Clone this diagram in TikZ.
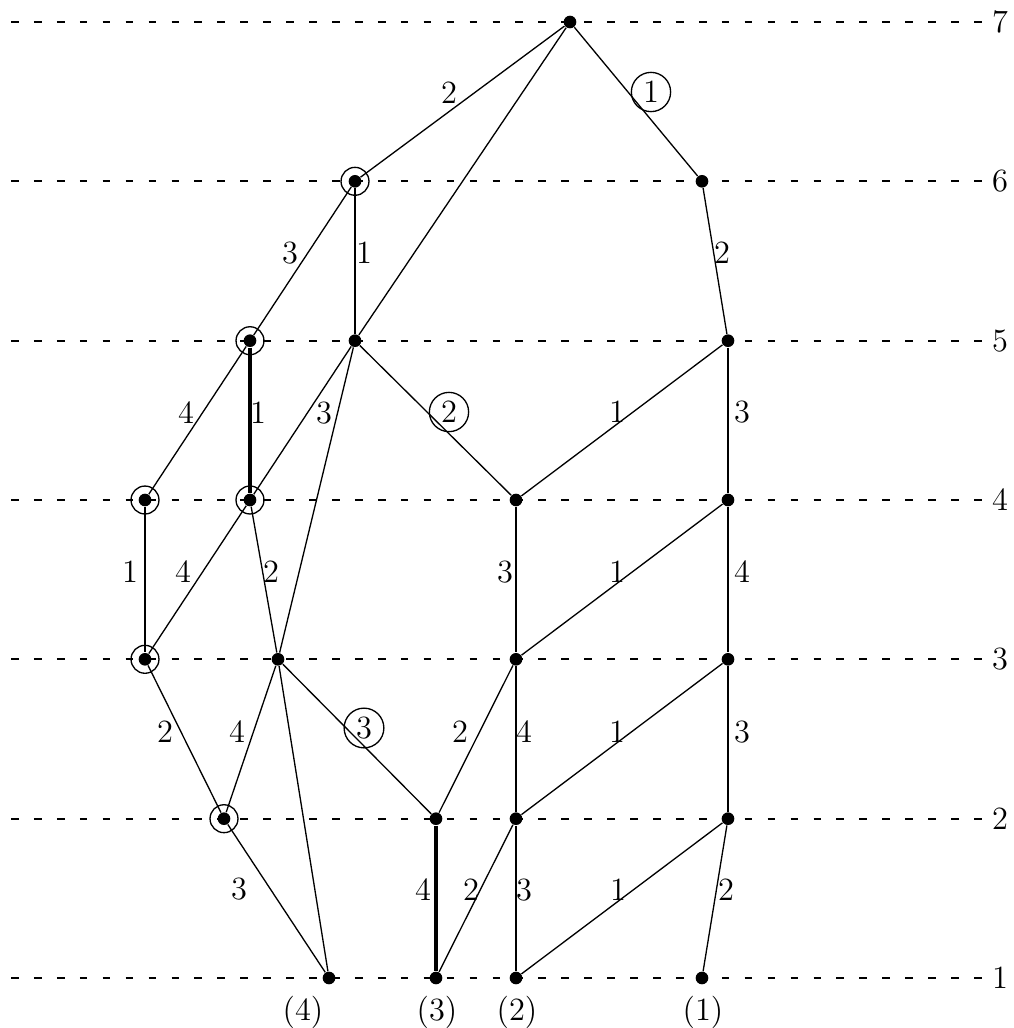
\documentclass[tikz,border=0pt]{standalone}
\tikzset{
  vtx/.style={circle,fill,inner sep=0pt,minimum size=4.8pt},
  ring/.style={line width=.5pt},
  edge/.style={line width=.5pt},
  heavy/.style={line width=.9pt},
  heavier/.style={line width=1.2pt},
  level/.style={line width=.8pt,dash pattern=on 2.9pt off 5.8pt},
  wt/.style={inner sep=0pt},
  cwt/.style={circle,draw,line width=.5pt,inner sep=1.7pt}
}

\begin{document}
\begin{tikzpicture}[x=.01333cm,y=-.01333cm,font=\fontsize{12.3pt}{14pt}\selectfont]
\useasboundingbox (0,0) rectangle (1013,1028);
% levels
\foreach \l in {1,...,7}{
  \pgfmathsetmacro\yy{978-(\l-1)*159.33}
  \coordinate (s\l) at (11,\yy);
  \node (lv\l) at (1000,\yy) {\l};
  \draw[level] (s\l) -- (lv\l);
}
% vertices
\foreach \n/\x/\y in {v7/570/22,
  v6a/355/181.3, v6b/702/181.3,
  v5a/250/340.7, v5b/355/340.7, v5c/728/340.7,
  v4a/145/500, v4b/250/500, v4c/516/500, v4d/728/500,
  v3a/145/659.3, v3b/278/659.3, v3c/516/659.3, v3d/728/659.3,
  v2a/224/818.7, v2b/436/818.7, v2c/516/818.7, v2d/728/818.7,
  v1a/329/978, v1b/436/978, v1c/516/978, v1d/702/978}
  \node[vtx] (\n) at (\x,\y) {};
\foreach \n in {v6a,v5a,v4a,v4b,v3a,v2a}
  \draw[ring] (\n) circle[radius=5.3pt];
% edges
\foreach \a/\b in {v7/v6a, v7/v5b, v5b/v4b, v4b/v3a, v7/v6b, v6b/v5c,
  v6a/v5a, v5a/v4a, v3a/v2a, v2a/v1a, v2a/v3b, v4b/v3b, v3b/v1a,
  v3b/v2b, v5b/v3b, v5b/v4c, v4c/v5c, v3c/v4d, v2c/v3d, v1c/v2d,
  v2d/v1d, v3c/v2b, v2c/v1b}
  \draw[edge] (\a) -- (\b);
\foreach \a/\b in {v6a/v5b, v4a/v3a, v4c/v3c, v3c/v2c, v2c/v1c,
  v5c/v4d, v4d/v3d, v3d/v2d}
  \draw[heavy] (\a) -- (\b);
\draw[heavier] (v5a) -- (v4b);
\draw[heavier] (v2b) -- (v1b);
% weights
\foreach \x/\y/\t in {449/93/2, 364/253/1, 290/253/3, 722/253/2,
  186/413/4, 258/413/1, 324/413/3, 617/412/1, 742/412/3,
  130/572/1, 183/572/4, 271/572/2, 505/572/3, 617/572/1, 742/572/4,
  165/732/2, 237/732/4, 460/732/2, 524/732/4, 617/732/1, 742/732/3,
  239/889/3, 423/890/4, 471/890/2, 524/890/3, 618/890/1, 726/890/2}
  \node[wt] at (\x,\y) {\t};
\node[cwt] (c1) at (651,92) {1};
\node[cwt] (c2) at (449,412) {2};
\node[cwt] (c3) at (364,728) {3};
% sinks
\node (b4) at (303,1012) {(4)};
\node (b3) at (437,1012) {(3)};
\node (b2) at (517,1012) {(2)};
\node (b1) at (703,1012) {(1)};
\end{tikzpicture}
\end{document}
